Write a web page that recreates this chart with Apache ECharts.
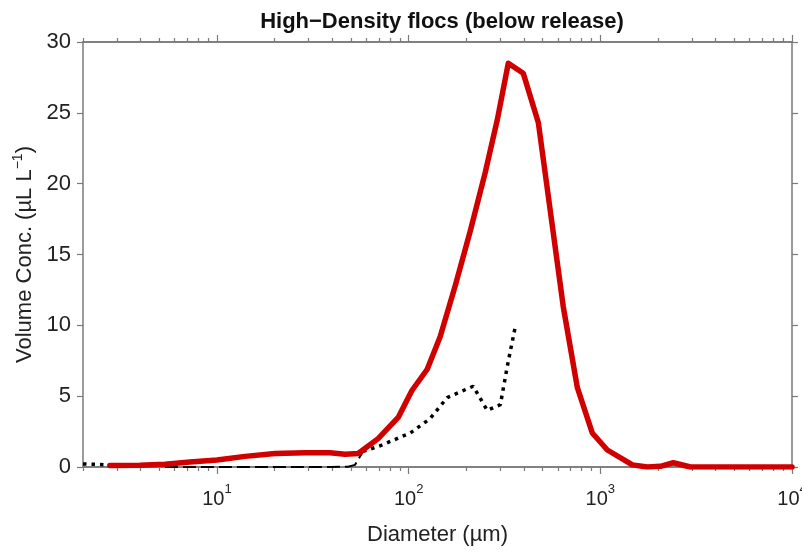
<!DOCTYPE html>
<html>
<head>
<meta charset="utf-8">
<script src="https://cdn.jsdelivr.net/npm/echarts@6/dist/echarts.min.js"></script>
<style>
  html, body { margin: 0; padding: 0; background: #fff; }
  #chart { width: 802px; height: 552px; }
</style>
</head>
<body>
<div id="chart"></div>
<script>
// High-Density flocs (below release) - volume concentration vs diameter

// red line (total)
const redDiameter = [2.76, 3.96, 5.35, 7.22, 10, 14, 20.1, 28.8, 38.9, 46.6, 54.5, 69.3, 88.2, 104, 125, 146, 175, 210, 251, 290, 331, 396, 475, 641, 759, 908, 1088, 1470, 1760, 2056, 2404, 2951, 4000, 10000];
const redConc = [0.1, 0.12, 0.2, 0.35, 0.5, 0.75, 0.95, 1.0, 1.0, 0.9, 0.95, 2.0, 3.5, 5.4, 6.9, 9.2, 12.8, 16.7, 20.8, 24.5, 28.5, 27.8, 24.3, 11.3, 5.6, 2.4, 1.2, 0.15, 0, 0.05, 0.3, 0, 0, 0];

// black dashed line
const dashDiameter = [5.35, 7.22, 10, 14, 20.1, 28.8, 38.9, 48.3, 52.5, 57.8];
const dashConc = [0, 0, 0, 0, 0, 0, 0, 0.02, 0.15, 1.1];

// black dotted line (gap hidden under the red line)
const dotDiameter = [2, 2.76, 3, 57.8, 71, 102, 129, 159, 217, 257, 301, 327, 360];
const dotConc = [0.22, 0.15, null, 1.1, 1.5, 2.4, 3.4, 4.9, 5.7, 4.0, 4.4, 7.1, 9.9];

// axis ticks
const majorTicks = [10, 100, 1000, 10000];

const minorTicks = [];
for (let k = 0; k < 4; k++) {
  for (let m = 2; m <= 9; m++) {
    const v = m * Math.pow(10, k);
    if (v >= 2 && v <= 10000) minorTicks.push(v);
  }
}

const FONT = "Liberation Sans, Arial, Helvetica, sans-serif";
const AXIS_COLOR = "#7a7a7a";

function pairs(xs, ys) {
  return xs.map((x, i) => [x, ys[i] === null ? "-" : ys[i]]);
}

function logAxis(position, ticks, tickLen, withLabels) {
  return {
    type: "log",
    logBase: 10,
    position: position,
    min: 2,
    max: 10000,
    axisLine: { show: true, onZero: false, lineStyle: { color: AXIS_COLOR, width: 1.5 } },
    axisTick: {
      show: true,
      inside: false,
      length: tickLen,
      customValues: ticks,
      lineStyle: { color: AXIS_COLOR, width: 1.2 },
    },
    axisLabel: withLabels
      ? {
          show: true,
          customValues: majorTicks,
          margin: 16,
          formatter: function (v) {
            return "{b|10}{s|" + Math.round(Math.log10(v)) + "}";
          },
          rich: {
            b: { fontSize: 20, fontFamily: FONT, color: "#222", lineHeight: 26, verticalAlign: "bottom" },
            s: { fontSize: 13, fontFamily: FONT, color: "#222", lineHeight: 26, verticalAlign: "top" },
          },
        }
      : { show: false },
    splitLine: { show: false },
    minorTick: { show: false },
  };
}

const chart = echarts.init(document.getElementById("chart"));

const option = {
  animation: false,
  backgroundColor: "#fff",
  title: {
    text: "High\u2212Density flocs (below release)",
    left: 437,
    textAlign: "center",
    top: 6,
    textStyle: { fontFamily: FONT, fontSize: 22, fontWeight: "bold", color: "#111" },
  },
  grid: { left: 83, right: 10, top: 42, bottom: 85, outerBoundsMode: "none", containLabel: false },
  xAxis: [
    Object.assign(logAxis("bottom", majorTicks, 7, true), {
      name: "Diameter (\u00b5m)",
      nameLocation: "middle",
      nameGap: 57,
      nameMoveOverlap: false,
      nameTextStyle: { fontFamily: FONT, fontSize: 22, color: "#222" },
    }),
    logAxis("bottom", minorTicks, 4, false),
    logAxis("top", majorTicks, 7, false),
    logAxis("top", minorTicks, 4, false),
  ],
  yAxis: [
    {
      type: "value",
      position: "left",
      min: 0,
      max: 30,
      interval: 5,
      name: "Volume Conc. (\u00b5L L{s|\u22121})",
      nameLocation: "middle",
      nameGap: 44,
      nameMoveOverlap: false,
      nameTextStyle: {
        fontFamily: FONT,
        fontSize: 22,
        color: "#222",
        lineHeight: 28,
        rich: { s: { fontSize: 14, fontFamily: FONT, color: "#222", lineHeight: 28, verticalAlign: "top" } },
      },
      axisLine: { show: true, onZero: false, lineStyle: { color: AXIS_COLOR, width: 1.5 } },
      axisTick: { show: true, inside: false, length: 6, lineStyle: { color: AXIS_COLOR, width: 1.2 } },
      axisLabel: { fontFamily: FONT, fontSize: 22, color: "#222", margin: 12 },
      splitLine: { show: false },
    },
    {
      type: "value",
      position: "right",
      min: 0,
      max: 30,
      interval: 5,
      axisLine: { show: true, onZero: false, lineStyle: { color: AXIS_COLOR, width: 1.5 } },
      axisTick: { show: true, inside: false, length: 6, lineStyle: { color: AXIS_COLOR, width: 1.2 } },
      axisLabel: { show: false },
      splitLine: { show: false },
    },
  ],
  series: [
    {
      name: "dotted",
      type: "line",
      xAxisIndex: 0,
      yAxisIndex: 0,
      data: pairs(dotDiameter, dotConc),
      showSymbol: false,
      connectNulls: false,
      lineStyle: { color: "#000", width: 3.5, type: [3.5, 5], cap: "butt" },
      z: 2,
    },
    {
      name: "dashed",
      type: "line",
      xAxisIndex: 0,
      yAxisIndex: 0,
      data: pairs(dashDiameter, dashConc),
      showSymbol: false,
      lineStyle: { color: "#000", width: 2, type: [13, 5] },
      z: 2,
    },
    {
      name: "total",
      type: "line",
      xAxisIndex: 0,
      yAxisIndex: 0,
      data: pairs(redDiameter, redConc),
      showSymbol: false,
      lineStyle: { color: "#d00000", width: 5.5, join: "round", cap: "round" },
      z: 3,
    },
  ],
};

chart.setOption(option);
</script>
</body>
</html>
